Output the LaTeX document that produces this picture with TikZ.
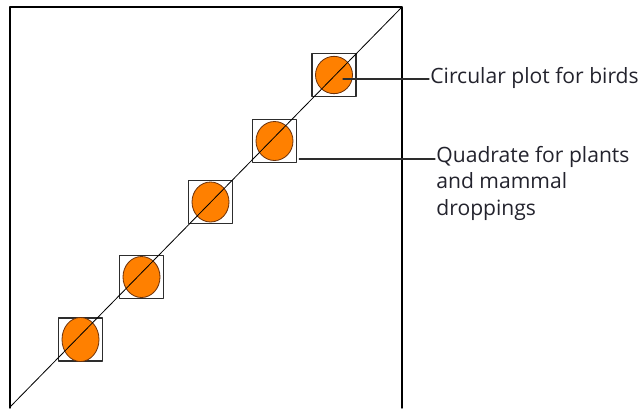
\documentclass[tikz,border=0pt]{standalone}
\usepackage{fontspec}
\setmainfont{Open Sans}
\usetikzlibrary{shapes.geometric,calc}
\definecolor{fg}{RGB}{0,0,0}
\definecolor{mu}{RGB}{45,45,45}
\definecolor{acc}{RGB}{255,128,0}
\definecolor{rim}{RGB}{110,50,10}
\definecolor{txt}{RGB}{35,35,45}
\tikzset{
  every picture/.style={fg, line cap=round, line join=round},
  every node/.style={font=\fontsize{18}{22.6}\selectfont},
  % Linien
  frame/.style={line width=1.2pt},
  diag/.style={line width=0.7pt},
  lead/.style={mu, line width=1pt},
  % Quadrate und Kreisflaechen
  quadbox/.style={draw=mu, line width=1.2pt, minimum width=1.32cm, minimum height=1.28cm, inner sep=0pt},
  plotdot/.style={ellipse, draw=rim, fill=acc, line width=0.7pt, minimum width=1.11cm, minimum height=#1, inner sep=0pt},
  plotdot/.default=1.2cm,
  % Beschriftung
  lbl/.style={txt, inner sep=1pt, align=left},
}
\begin{document}
\begin{tikzpicture}[x=0.03cm,y=-0.03cm]
  \useasboundingbox (0,0) rectangle (642,408);
  % Untersuchungsflaeche
  \draw[frame] (10,408) -- (10,7) -- (402,7) -- (402,408);
  % Quadrate entlang der Diagonale
  \foreach \i/\px/\py/\h in {1/334/75/1.12cm, 2/274.5/141/1.17cm, 3/210.5/202/1.2cm, 4/141.5/277/1.23cm, 5/80.5/339.5/1.32cm} {
    \node[quadbox] (q\i) at (\px,\py) {};
    \node[plotdot=\h] (c\i) at (q\i) {};
  }
  % Transekt
  \coordinate (SW) at (10,407);
  \coordinate (NE) at (402,7);
  \draw[diag] (SW) -- (NE);
  % Legende
  \node[lbl, anchor=west] (birds) at (429,78) {Circular plot for birds};
  \node[lbl, anchor=north west] (quads) at (435,144.5) {Quadrate for plants\\and mammal\\droppings};
  \coordinate (k1) at ($(c1.center)+(9,4)$);
  \coordinate (k2) at ($(q2.south east)+(2,-4)$);
  \draw[lead] (k1) -- (k1 -| birds.west);
  \draw[lead] (k2) -- (k2 -| quads.west);
\end{tikzpicture}
\end{document}
